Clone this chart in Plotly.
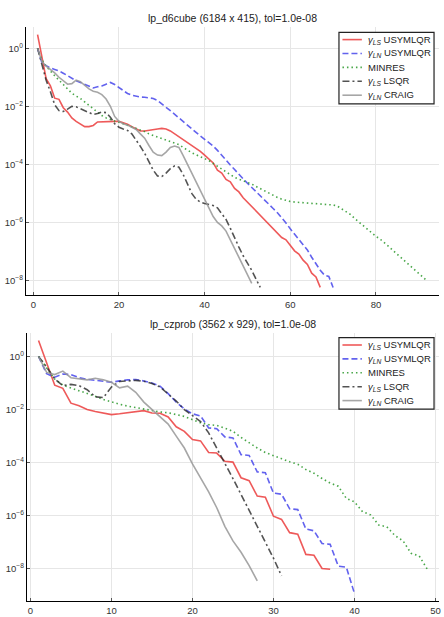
import numpy as np
import plotly.graph_objects as go

# ---------------- data (log10 of the residual measure, per iteration) -------------
d6_title = "lp_d6cube (6184 x 415), tol=1.0e-08"
cz_title = "lp_czprob (3562 x 929), tol=1.0e-08"

series_names = [
    "<i>γ</i><sub><i>LS</i></sub> USYMLQR",
    "<i>γ</i><sub><i>LN</i></sub> USYMLQR",
    "MINRES",
    "<i>γ</i><sub><i>LS</i></sub> LSQR",
    "<i>γ</i><sub><i>LN</i></sub> CRAIG",
]

d6_ls_usymlqr = [0.47, -0.35, -1.05, -1.3, -1.72, -1.76, -2.05, -2.2, -2.4, -2.52,
                 -2.62, -2.7, -2.7, -2.66, -2.54, -2.53, -2.52, -2.52, -2.52, -2.52,
                 -2.56, -2.62, -2.7, -2.78, -2.85, -2.85, -2.82, -2.8, -2.78, -2.76,
                 -2.78, -2.85, -2.95, -3.08, -3.18, -3.28, -3.36, -3.45, -3.55, -3.68,
                 -3.8, -3.95, -4.2, -4.3, -4.52, -4.6, -4.83, -4.95, -5.15, -5.3,
                 -5.45, -5.6, -5.75, -5.9, -6.05, -6.2, -6.38, -6.52, -6.6, -6.8,
                 -6.98, -7.09, -7.3, -7.45, -7.75, -7.88, -8.24]
d6_ln_usymlqr = [0.0, -0.5, -0.6, -0.68, -0.73, -0.78, -0.86, -0.95, -1.04, -1.12,
                 -1.18, -1.25, -1.32, -1.37, -1.33, -1.3, -1.24, -1.18, -1.25, -1.35,
                 -1.48, -1.56, -1.62, -1.66, -1.68, -1.69, -1.7, -1.73, -1.8, -1.93,
                 -2.04, -2.15, -2.28, -2.4, -2.54, -2.65, -2.78, -2.9, -3.02, -3.13,
                 -3.25, -3.37, -3.52, -3.7, -3.85, -4.02, -4.18, -4.35, -4.5, -4.65,
                 -4.79, -4.95, -5.1, -5.24, -5.38, -5.52, -5.67, -5.83, -6.02, -6.22,
                 -6.4, -6.58, -6.75, -6.95, -7.2, -7.45, -7.65, -7.82, -7.86, -8.24]
d6_minres = [0.0, -0.4, -0.62, -0.8, -0.95, -1.1, -1.25, -1.42, -1.55, -1.65,
             -1.73, -1.85, -1.97, -2.1, -2.22, -2.32, -2.4, -2.46, -2.51, -2.55,
             -2.6, -2.65, -2.7, -2.75, -2.8, -2.87, -2.95, -3.0, -3.05, -3.1,
             -3.15, -3.2, -3.26, -3.32, -3.42, -3.52, -3.6, -3.67, -3.74, -3.8,
             -3.87, -3.97, -4.07, -4.17, -4.27, -4.36, -4.45, -4.51, -4.56, -4.61,
             -4.68, -4.76, -4.84, -4.92, -5.0, -5.07, -5.14, -5.2, -5.25, -5.28,
             -5.3, -5.31, -5.32, -5.33, -5.34, -5.35, -5.36, -5.37, -5.38, -5.4,
             -5.44, -5.53, -5.62, -5.72, -5.86, -5.99, -6.12, -6.24, -6.37, -6.48,
             -6.58, -6.69, -6.83, -6.97, -7.1, -7.22, -7.35, -7.48, -7.61, -7.75,
             -7.88, -8.02]
d6_ls_lsqr = [0.0, -0.55, -1.1, -1.5, -1.95, -2.15, -2.18, -2.1, -2.0, -2.02,
              -2.08, -2.15, -2.22, -2.28, -2.25, -2.2, -2.22, -2.38, -2.6, -2.72,
              -2.78, -2.83, -2.95, -3.15, -3.38, -3.62, -3.9, -4.2, -4.4, -4.42,
              -4.3, -4.15, -4.05, -4.1, -4.35, -4.7, -5.0, -5.2, -5.3, -5.35,
              -5.38, -5.42, -5.5, -5.68, -5.9, -6.2, -6.55, -6.85, -7.15, -7.4,
              -7.65, -7.95, -8.24]
d6_ln_craig = [0.0, -0.45, -0.62, -0.72, -0.85, -1.0, -1.12, -1.24, -1.22, -1.1,
               -1.15, -1.28, -1.4, -1.48, -1.52, -1.6, -1.75, -2.0, -2.35, -2.52,
               -2.6, -2.65, -2.72, -2.8, -2.95, -3.1, -3.35, -3.58, -3.68, -3.7,
               -3.58, -3.42, -3.37, -3.42, -3.7, -4.0, -4.3, -4.6, -4.88, -5.2,
               -5.5, -5.8, -6.0, -6.12, -6.3, -6.6, -6.9, -7.2, -7.5, -7.8, -8.1]

cz_ls_usymlqr = [0.6, -0.25, -1.08, -1.2, -1.76, -1.86, -2.0, -2.07, -2.12, -2.19,
                 -2.16, -2.12, -2.08, -2.04, -2.13, -2.14, -2.28, -2.65, -2.82, -3.13,
                 -3.18, -3.62, -3.64, -3.95, -3.98, -4.57, -4.68, -5.26, -5.3, -6.02,
                 -6.14, -6.64, -6.7, -7.46, -7.49, -7.99, -8.02]
cz_ln_usymlqr = [0.0, -0.65, -0.78, -0.66, -0.68, -0.8, -0.86, -0.9, -0.94, -0.97,
                 -0.92, -0.88, -0.87, -0.92, -1.0, -1.12, -1.4, -1.72, -1.98, -2.16,
                 -2.24, -2.69, -2.72, -3.03, -3.07, -3.7, -3.73, -4.35, -4.38, -5.15,
                 -5.19, -5.74, -5.77, -6.5, -6.57, -7.05, -7.08, -7.9, -7.94, -8.93]
cz_minres = [0.0, -0.45, -0.85, -1.08, -1.18, -1.28, -1.38, -1.5, -1.62, -1.72,
             -1.8, -1.87, -1.93, -1.99, -2.05, -2.09, -2.12, -2.18, -2.26, -2.38,
             -2.5, -2.57, -2.6, -2.7, -2.82, -3.05, -3.26, -3.45, -3.62, -3.75,
             -3.85, -3.97, -4.06, -4.26, -4.4, -4.6, -4.77, -4.89, -5.35, -5.48,
             -5.85, -5.97, -6.35, -6.42, -6.75, -6.95, -7.42, -7.52, -8.02]
cz_ls_lsqr = [0.0, -0.4, -0.85, -1.1, -1.05, -1.1, -1.25, -1.52, -1.55, -1.15,
              -0.94, -0.92, -0.9, -0.93, -1.02, -1.15, -1.4, -1.68, -2.0, -2.22,
              -2.45, -2.88, -3.45, -4.0, -4.6, -5.2, -5.82, -6.42, -7.0, -7.6, -8.27]
cz_ln_craig = [0.0, -0.6, -0.68, -0.55, -0.8, -0.85, -0.88, -0.82, -0.88, -0.97,
               -1.18, -1.12, -1.35, -1.72, -2.0, -2.3, -2.55, -3.0, -3.45, -4.05,
               -4.55, -5.1, -5.7, -6.4, -6.95, -7.38, -7.88, -8.46]

x_ticks_top = [0, 20, 40, 60, 80]
x_ticks_bottom = [0, 10, 20, 30, 40, 50]
y_tick_exps = [0, -2, -4, -6, -8]

# ---------------- styles ----------------
styles = [
    dict(color="rgba(235,60,60,0.85)", dash="solid", width=1.6),
    dict(color="rgba(70,70,235,0.85)", dash="6px,3px", width=1.6),
    dict(color="rgba(40,150,40,0.85)", dash="1.5px,3px", width=1.6),
    dict(color="rgba(40,40,40,0.8)", dash="7px,3px,2px,3px", width=1.6),
    dict(color="rgba(150,150,150,0.85)", dash="solid", width=1.6),
]

W, H = 444, 617
font = "Liberation Sans, Arial, sans-serif"

fig = go.Figure()

def add_panel(series, xaxis, yaxis):
    for name, vals, st in zip(series_names, series, styles):
        it = np.arange(1, len(vals) + 1)
        fig.add_trace(go.Scatter(
            x=it, y=np.power(10.0, np.array(vals)), mode="lines", name=name,
            line=st, xaxis=xaxis, yaxis=yaxis, showlegend=False,
        ))

add_panel([d6_ls_usymlqr, d6_ln_usymlqr, d6_minres, d6_ls_lsqr, d6_ln_craig], "x", "y")
add_panel([cz_ls_usymlqr, cz_ln_usymlqr, cz_minres, cz_ls_lsqr, cz_ln_craig], "x2", "y2")

tickfont = dict(family=font, size=9.5, color="#333333")
ytext = [f"10<sup>{e}</sup>".replace("-", "−") for e in y_tick_exps]
yvals = [10.0 ** e for e in y_tick_exps]

axis_common = dict(showline=True, linecolor="black", linewidth=1.3, mirror=False,
                   showgrid=True, gridcolor="#e6e6e6", gridwidth=1, zeroline=False,
                   ticks="inside", ticklen=3, tickcolor="#555555", tickfont=tickfont)

def pad(lo, hi):
    m = 0.03 * (hi - lo)
    return [lo - m, hi + m]

top_x = [26 / W, 441 / W]
top_y = [1 - 295 / H, 1 - 27 / H]
bot_x = [27 / W, 441 / W]
bot_y = [1 - 601 / H, 1 - 333 / H]

# ---------------- hand-drawn legends (compact rows, as in the reference) -------------
shapes = []
annotations = []

def add_legend(top_px):
    left, right = 340.5, 436.0
    row_h = 13.9
    bottom_px = top_px + 71.5
    shapes.append(dict(type="rect", xref="paper", yref="paper",
                       x0=left / W, x1=right / W, y0=1 - bottom_px / H, y1=1 - top_px / H,
                       line=dict(color="#222222", width=1.2), fillcolor="white", layer="above"))
    for i, (name, st) in enumerate(zip(series_names, styles)):
        yc = top_px + 7.3 + i * row_h
        shapes.append(dict(type="line", xref="paper", yref="paper",
                           x0=344 / W, x1=363.5 / W, y0=1 - yc / H, y1=1 - yc / H,
                           line=dict(color=st["color"], width=st["width"], dash=st["dash"]),
                           layer="above"))
        annotations.append(dict(text=name, x=368 / W, y=1 - yc / H, xref="paper", yref="paper",
                                xanchor="left", yanchor="middle", showarrow=False,
                                font=dict(family=font, size=9.5, color="#222222")))

add_legend(32.3)
add_legend(337.7)

annotations += [
    dict(text=d6_title, x=(top_x[0] + top_x[1]) / 2, y=1 - 18 / H, xref="paper", yref="paper",
         showarrow=False, font=dict(family=font, size=10.5, color="#222222"), yanchor="middle"),
    dict(text=cz_title, x=(bot_x[0] + bot_x[1]) / 2, y=1 - 324 / H, xref="paper", yref="paper",
         showarrow=False, font=dict(family=font, size=10.5, color="#222222"), yanchor="middle"),
]

fig.update_layout(
    width=W, height=H, margin=dict(l=0, r=0, t=0, b=0),
    paper_bgcolor="white", plot_bgcolor="white",
    showlegend=False,
    xaxis=dict(domain=top_x, range=pad(1, 92), tickvals=x_ticks_top, anchor="y", **axis_common),
    yaxis=dict(domain=top_y, type="log", range=pad(-8.24, 0.47), tickvals=yvals, ticktext=ytext,
               anchor="x", **axis_common),
    xaxis2=dict(domain=bot_x, range=pad(1, 49), tickvals=x_ticks_bottom, anchor="y2", **axis_common),
    yaxis2=dict(domain=bot_y, type="log", range=pad(-8.93, 0.6), tickvals=yvals, ticktext=ytext,
                anchor="x2", **axis_common),
    shapes=shapes,
    annotations=annotations,
)

fig.write_html("out.html")
